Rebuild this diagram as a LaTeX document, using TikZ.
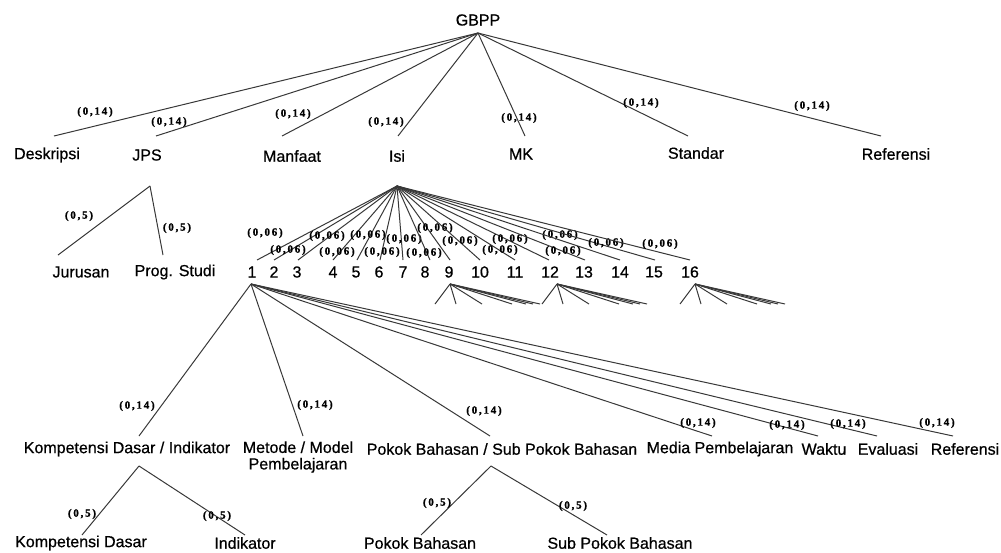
\documentclass[tikz,border=0pt]{standalone}
\usepackage{fontspec}
\setmainfont[FakeBold=0.6]{Liberation Sans}
\newfontfamily\lblfont[LetterSpace=16,FakeBold=1.2]{Liberation Serif}
\begin{document}
\begin{tikzpicture}[x=1pt,y=-1pt,
  txt/.style={font=\fontsize{16}{16.5}\selectfont, inner sep=0pt, align=center},
  lbl/.style={font=\lblfont\bfseries\fontsize{11}{12}\selectfont, inner sep=0pt},
  conn/.style={draw=black!78, line width=1pt}]
\useasboundingbox (0,0) rectangle (1001,552);
% ---------- root
\node[txt] (gbpp) at (478,20) {GBPP};
\coordinate (gbpp-a) at (478,33);
% ---------- level 1
\foreach \nm/\tx/\ty/\ex/\lx/\ly/\t in {
  desk/47/155/54/95/112/Deskripsi,
  jps/147/155/156/169/122/JPS,
  manfaat/292/156/282/293/114/Manfaat,
  isi/397/156/398/386/122/Isi,
  mk/521/154/525/519/118/MK,
  standar/696/153/688/641/103/Standar,
  referensi/896/154/881/812/106/Referensi}{
  \node[txt] (\nm) at (\tx,\ty) {\t};
  \coordinate (\nm-t) at (\ex,136);
  \draw[conn] (gbpp-a) -- (\nm-t);
  \node[lbl] (\nm-l) at (\lx,\ly) {(0,14)};
}
% ---------- JPS children
\coordinate (jps-a) at (150,186);
\node[txt] (jur) at (81,272) {Jurusan};
\node[txt] (prog) at (175,272) {Prog. Studi};
\coordinate (jur-t) at (58,255);
\coordinate (prog-t) at (163,255);
\draw[conn] (jps-a) -- (jur-t);
\draw[conn] (jps-a) -- (prog-t);
\node[lbl] (jur-l) at (79,216) {(0,5)};
\node[lbl] (prog-l) at (177,228) {(0,5)};
% ---------- Isi children 1..16
\coordinate (isi-a) at (397,186);
\foreach \i/\tx/\ex/\lx/\ly in {
  1/252/257/265/233, 2/274/274/288/250, 3/297/298/327/236, 4/333/333/337/252,
  5/356/357/368/235, 6/379/380/382/252, 7/403/403/404/239, 8/425/430/424/253,
  9/449/450/435/228, 10/480/480/460/241, 11/515/515/500/250, 12/550/549/510/239,
  13/584/585/560/235, 14/620/620/563/251, 15/654/655/606/243, 16/690/690/660/244}{
  \node[txt] (n\i) at (\tx,272) {\i};
  \coordinate (n\i-t) at (\ex,260);
  \draw[conn] (isi-a) -- (n\i-t);
  \node[lbl] (n\i-l) at (\lx,\ly) {(0,06)};
}
% ---------- small fans under 9, 12, 16
\foreach \i/\ax in {9/450, 12/557, 16/695}{
  \coordinate (n\i-a) at (\ax,284);
  \foreach \k/\dx in {1/-15, 2/6, 3/32, 4/62, 5/76, 6/83, 7/90}{
    \coordinate (n\i-e\k) at (\ax+\dx,304);
    \draw[conn] (n\i-a) -- (n\i-e\k);
  }
}
% ---------- children of 1
\coordinate (n1-a) at (251,284);
\foreach \nm/\tx/\ty/\ex/\lx/\ly/\t in {
  kd/127/449/139/137/406/{Kompetensi Dasar / Indikator},
  met/298/457/303/315/405/{Metode / Model\\Pembelajaran},
  pok/502/449/490/484/411/{Pokok Bahasan / Sub Pokok Bahasan},
  med/720/449/712/698/423/{Media Pembelajaran},
  wak/824/449/818/787/425/{Waktu},
  eva/888/449/877/848/424/{Evaluasi},
  ref/965/449/953/937/423/{Referensi}}{
  \node[txt] (\nm) at (\tx,\ty) {\t};
  \coordinate (\nm-t) at (\ex,436);
  \draw[conn] (n1-a) -- (\nm-t);
  \node[lbl] (\nm-l) at (\lx,\ly) {(0,14)};
}
% ---------- level 3
\coordinate (kd-a) at (139,466);
\node[txt] (kdd) at (81,543) {Kompetensi Dasar};
\node[txt] (ind) at (245,543) {Indikator};
\coordinate (kdd-t) at (82,535);
\coordinate (ind-t) at (245,535);
\draw[conn] (kd-a) -- (kdd-t);
\draw[conn] (kd-a) -- (ind-t);
\node[lbl] (kdd-l) at (82,514) {(0,5)};
\node[lbl] (ind-l) at (217,516) {(0,5)};
\coordinate (pok-a) at (491,466);
\node[txt] (pb) at (420,543) {Pokok Bahasan};
\node[txt] (spb) at (620,543) {Sub Pokok Bahasan};
\coordinate (pb-t) at (421,535);
\coordinate (spb-t) at (607,535);
\draw[conn] (pok-a) -- (pb-t);
\draw[conn] (pok-a) -- (spb-t);
\node[lbl] (pb-l) at (437,503) {(0,5)};
\node[lbl] (spb-l) at (573,506) {(0,5)};
\end{tikzpicture}
\end{document}
